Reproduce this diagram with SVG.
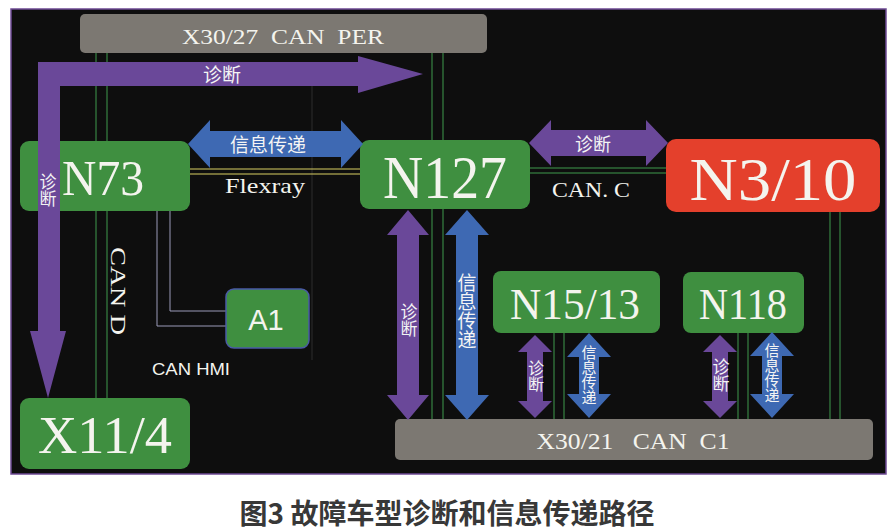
<svg xmlns="http://www.w3.org/2000/svg" width="891" height="532" viewBox="0 0 891 532">
<style>
.bg{fill:#0e0e0e;stroke:#6e4a94;stroke-width:1.5}
.node{fill:#3f8f40}
.red{fill:#e4402c}
.bar{fill:#7c7872}
.ser{font-family:"Liberation Serif","DejaVu Serif",serif;fill:#f4f4ee}
.sans{font-family:"Liberation Sans","Noto Sans",sans-serif;fill:#f4f4ee}
.cjk{font-family:"Noto Sans CJK SC","Noto Sans",sans-serif;fill:#f4f4f4}
.v{writing-mode:vertical-rl;text-anchor:middle}
.gl{stroke:#3f9a4c;stroke-width:1;fill:none}
.yl{stroke:#d9cf63;stroke-width:1.2;fill:none}
.hl{stroke:#9a9ab8;stroke-width:1;fill:none}
.pu{fill:#6a4899}
.bl{fill:#3e69b3}
</style>
<rect x="0" y="0" width="891" height="532" fill="#ffffff"/>
<rect class="bg" x="11" y="9" width="875" height="465"/>

<g id="connectors">
  <path class="gl" d="M96,53V141M107,53V141M96,211V398M107,211V398"/>
  <path class="gl" d="M432,53V140M443,53V140M432,209V419M443,209V419"/>
  <path class="gl" d="M830,212V419M840,212V419"/>
  <path class="gl" d="M554,333V419M564,333V419"/>
  <path class="gl" d="M738,333V419M748,333V419"/>
  <path d="M312,86V360" stroke="#2c2c2c" stroke-width="1" fill="none"/>
  <path class="yl" d="M190,169H360M190,174H360"/>
  <path class="gl" d="M530,168H668M530,173H668"/>
  <path class="hl" d="M157,211V326H226M170,211V311H226"/>
</g>

<g id="N73">
  <rect class="node" x="20" y="141" width="170" height="70" rx="9"/>
  <text class="ser" x="103" y="195" font-size="50" text-anchor="middle" textLength="82" lengthAdjust="spacingAndGlyphs">N73</text>
</g>

<g id="arrow-L">
  <path class="pu" d="M38,62H358V56L423,74L358,93V86H60V331H66L48,398L30,331H38Z"/>
  <text class="cjk" x="222" y="82" font-size="19" text-anchor="middle">诊断</text>
  <text class="cjk v" x="48" y="190" font-size="17">诊断</text>
</g>

<g id="X30-27">
  <rect class="bar" x="80" y="14" width="407" height="39" rx="5"/>
  <text class="ser" x="283" y="44" font-size="22" text-anchor="middle" xml:space="preserve" textLength="202" lengthAdjust="spacingAndGlyphs">X30/27  CAN  PER</text>
</g>

<g id="N127">
  <rect class="node" x="360" y="140" width="170" height="69" rx="9"/>
  <text class="ser" x="445" y="198" font-size="62" text-anchor="middle" textLength="124" lengthAdjust="spacingAndGlyphs">N127</text>
</g>

<g id="N3-10">
  <rect class="red" x="666" y="139" width="214" height="73" rx="10"/>
  <text class="ser" x="773" y="200" font-size="62" text-anchor="middle" textLength="167" lengthAdjust="spacingAndGlyphs">N3/10</text>
</g>

<g id="A1">
  <rect class="node" x="226" y="289" width="83" height="59" rx="8" stroke="#4a5aa6" stroke-width="1.5"/>
  <text class="sans" x="266" y="330" font-size="29" text-anchor="middle">A1</text>
</g>

<g id="X11-4">
  <rect class="node" x="20" y="398" width="170" height="71" rx="9"/>
  <text class="ser" x="105" y="453" font-size="52" text-anchor="middle" textLength="134" lengthAdjust="spacingAndGlyphs">X11/4</text>
</g>

<g id="N15-13">
  <rect class="node" x="493" y="271" width="167" height="62" rx="8"/>
  <text class="ser" x="575" y="319" font-size="44" text-anchor="middle" textLength="130" lengthAdjust="spacingAndGlyphs">N15/13</text>
</g>

<g id="N118">
  <rect class="node" x="683" y="272" width="121" height="61" rx="8"/>
  <text class="ser" x="743" y="319" font-size="44" text-anchor="middle" textLength="88" lengthAdjust="spacingAndGlyphs">N118</text>
</g>

<g id="X30-21">
  <rect class="bar" x="395" y="419" width="478" height="41" rx="5"/>
  <text class="ser" x="633" y="449" font-size="23" text-anchor="middle" xml:space="preserve" textLength="193" lengthAdjust="spacingAndGlyphs">X30/21   CAN  C1</text>
</g>

<g id="arrows">
  <path class="bl" d="M188,144L210,120V131H341V120L363,144L341,168V157H210V168Z"/>
  <text class="cjk" x="268" y="152" font-size="19" text-anchor="middle">信息传递</text>
  <path class="pu" d="M529,143L551,120V130H646V120L668,143L646,166V156H551V166Z"/>
  <text class="cjk" x="593" y="151" font-size="18" text-anchor="middle">诊断</text>

  <path class="pu" d="M408,210L429,235H419V395H429L408,420L387,395H397V235H387Z"/>
  <text class="cjk v" x="409" y="320" font-size="17">诊断</text>

  <path class="bl" d="M467,210L489,235H478V395H489L467,420L445,395H456V235H445Z"/>
  <text class="cjk v" x="467" y="311" font-size="19">信息传递</text>

  <path class="pu" d="M535,335L552,352H543V401H552L535,418L518,401H527V352H518Z"/>
  <text class="cjk v" x="536" y="376" font-size="16">诊断</text>

  <path class="bl" d="M589,333L611,357H599V394H611L589,418L567,394H579V357H567Z"/>
  <text class="cjk v" x="589" y="375" font-size="15">信息传递</text>

  <path class="pu" d="M720,335L737,352H728V401H737L720,418L703,401H712V352H703Z"/>
  <text class="cjk v" x="721" y="375" font-size="17">诊断</text>

  <path class="bl" d="M772,332L794,356H782V394H794L772,418L750,394H762V356H750Z"/>
  <text class="cjk v" x="772" y="373" font-size="15">信息传递</text>
</g>

<g id="labels">
  <text class="ser" x="265" y="193" font-size="22" text-anchor="middle" textLength="80" lengthAdjust="spacingAndGlyphs">Flexray</text>
  <text class="ser" x="591" y="197" font-size="21" text-anchor="middle" textLength="78" lengthAdjust="spacingAndGlyphs">CAN. C</text>
  <text class="ser" font-size="22" transform="translate(111,247) rotate(90)" textLength="88" lengthAdjust="spacingAndGlyphs">CAN D</text>
  <text class="sans" x="191" y="375" font-size="17" text-anchor="middle" textLength="78" lengthAdjust="spacingAndGlyphs">CAN HMI</text>
</g>

<text x="447" y="524" font-family="Noto Sans CJK SC,Noto Sans,sans-serif" font-weight="700" font-size="28" fill="#383838" text-anchor="middle">图3 故障车型诊断和信息传递路径</text>
</svg>
